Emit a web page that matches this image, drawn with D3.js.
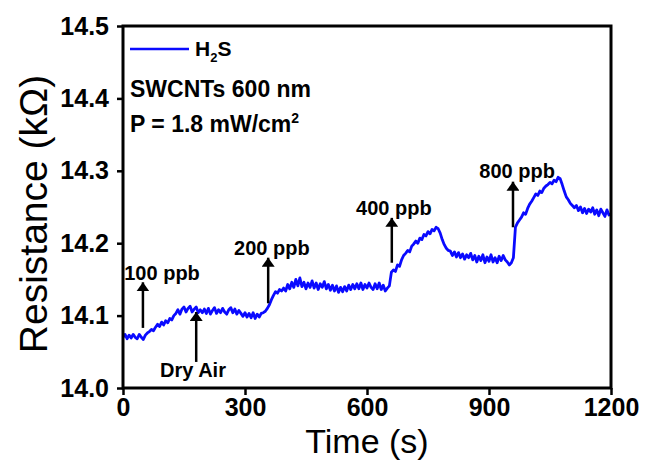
<!DOCTYPE html>
<html>
<head>
<meta charset="utf-8">
<script src="https://cdn.jsdelivr.net/npm/d3@7"></script>
<style>
  body { margin: 0; background: #fff; }
  text { font-family: "Liberation Sans", Arial, sans-serif; }
</style>
</head>
<body>
<svg id="chart" width="645" height="461"></svg>
<script>
'use strict';

// sampling step of the trace (s)
const step = 5;

// resistance (kOhm), one value every 5 s from 0 to 1200 s
const resistance = [
  // 0 - 55
  14.070, 14.074, 14.068, 14.073, 14.069, 14.074, 14.070, 14.068, 14.074, 14.070, 14.067, 14.073,
  // 60 - 125
  14.076, 14.078, 14.081, 14.079, 14.084, 14.088, 14.085, 14.091, 14.087, 14.093, 14.090, 14.096, 14.094, 14.100,
  // 130 - 190
  14.103, 14.108, 14.102, 14.109, 14.112, 14.105, 14.110, 14.113, 14.105, 14.109, 14.112, 14.104, 14.108,
  // 195 - 345
  14.104, 14.109, 14.103, 14.110, 14.102, 14.107, 14.111, 14.103, 14.108, 14.104,
  14.110, 14.105, 14.102, 14.108, 14.111, 14.104, 14.109, 14.102, 14.107, 14.103,
  14.099, 14.104, 14.098, 14.103, 14.097, 14.104, 14.096, 14.102, 14.098, 14.103, 14.104,
  // 350 - 390
  14.106, 14.110, 14.115, 14.122, 14.128, 14.133, 14.131, 14.136, 14.134,
  // 395 - 645
  14.138, 14.134, 14.143, 14.137, 14.146, 14.139, 14.150, 14.141, 14.152, 14.140,
  14.146, 14.137, 14.145, 14.139, 14.148, 14.138, 14.145, 14.136, 14.144, 14.139,
  14.147, 14.137, 14.143, 14.135, 14.142, 14.134, 14.141, 14.132, 14.139, 14.133,
  14.140, 14.134, 14.142, 14.136, 14.143, 14.137, 14.144, 14.137, 14.145, 14.136,
  14.143, 14.138, 14.145, 14.139, 14.136, 14.144, 14.137, 14.145, 14.136, 14.142, 14.134,
  // 650 - 775
  14.138, 14.141, 14.160, 14.163, 14.161, 14.170, 14.168, 14.177, 14.183, 14.186,
  14.190, 14.188, 14.196, 14.199, 14.203, 14.200, 14.207, 14.205, 14.212, 14.210,
  14.216, 14.213, 14.219, 14.217, 14.222, 14.220,
  // 780 - 800
  14.214, 14.205, 14.198, 14.193, 14.190,
  // 805 - 955
  14.189, 14.183, 14.188, 14.181, 14.187, 14.180, 14.185, 14.178, 14.184, 14.180,
  14.186, 14.177, 14.183, 14.174, 14.182, 14.176, 14.184, 14.173, 14.181, 14.175,
  14.184, 14.174, 14.180, 14.173, 14.182, 14.176, 14.183, 14.177, 14.174, 14.170, 14.173,
  // 960 - 1075
  14.180, 14.222, 14.228, 14.232, 14.236, 14.242, 14.240, 14.248, 14.254, 14.258,
  14.263, 14.268, 14.266, 14.272, 14.270, 14.276, 14.279, 14.281, 14.284, 14.282,
  14.287, 14.285, 14.291, 14.289,
  // 1080 - 1200
  14.281, 14.272, 14.264, 14.260, 14.255, 14.252, 14.249, 14.252, 14.245, 14.250,
  14.242, 14.248, 14.241, 14.247, 14.243, 14.249, 14.240, 14.246, 14.238, 14.247,
  14.242, 14.237, 14.246, 14.239, 14.240
];

// annotation arrows: label, time of arrow, arrow start / tip, label position
const notes      = ['100 ppb', 'Dry Air', '200 ppb', '400 ppb', '800 ppb'];
const noteTime   = [49, 180, 357, 661, 959];
const noteFrom   = [14.083, 14.036, 14.117, 14.173, 14.222];
const noteTip    = [14.146, 14.105, 14.180, 14.235, 14.285];
const noteLabelT = [96, 172, 366, 666, 969];
const noteLabelV = [14.149, 14.015, 14.184, 14.239, 14.290];

// ticks
const xTicks = [0, 300, 600, 900, 1200];
const yTicks = [14.0, 14.1, 14.2, 14.3, 14.4, 14.5];

const margin = { top: 26, right: 34, bottom: 73, left: 123 };
const width  = 645 - margin.left - margin.right,
      height = 461 - margin.top - margin.bottom;

const data = resistance.map( (v, i) => ({ t: i * step, v: v }) );

// scales
const x = d3.scaleLinear().domain([0, 1200]).range([0, width]);
const y = d3.scaleLinear().domain([14.0, 14.5]).range([height, 0]);

const svg = d3.select('#chart')
  .append('g')
    .attr('transform', `translate(${margin.left},${margin.top})`);

// arrow head
svg.append('defs')
  .append('marker')
    .attr('id', 'head')
    .attr('viewBox', '0 0 10 10')
    .attr('refX', 10)
    .attr('refY', 5)
    .attr('markerUnits', 'userSpaceOnUse')
    .attr('markerWidth', 9)
    .attr('markerHeight', 13)
    .attr('orient', 'auto')
    .attr('preserveAspectRatio', 'none')
  .append('path')
    .attr('d', 'M0,0 L10,5 L0,10 Z')
    .attr('fill', '#000');

// the trace
const line = d3.line()
  .x( (d) => x(d.t) )
  .y( (d) => y(d.v) );

svg.append('path')
  .datum(data)
  .attr('d', line)
  .attr('fill', 'none')
  .attr('stroke', '#0a0aff')
  .attr('stroke-width', 2.8)
  .attr('stroke-linejoin', 'round');

// axes
const xAxis = d3.axisBottom(x).tickValues(xTicks).tickSize(7).tickPadding(3).tickFormat(d3.format('d'));
const yAxis = d3.axisLeft(y).tickValues(yTicks).tickSize(6).tickPadding(8).tickFormat(d3.format('.1f'));

const gx = svg.append('g')
  .attr('transform', `translate(0,${height})`)
  .call(xAxis);

const gy = svg.append('g')
  .call(yAxis);

[gx, gy].forEach( (g) => {
  g.select('.domain').remove();
  g.selectAll('line').attr('stroke', '#000').attr('stroke-width', 2.5);
  g.selectAll('text')
    .attr('fill', '#000')
    .style('font-size', '25px')
    .style('font-weight', 'bold');
});

// frame
svg.append('rect')
  .attr('width', width)
  .attr('height', height)
  .attr('fill', 'none')
  .attr('stroke', '#000')
  .attr('stroke-width', 3);

// arrows + labels
notes.forEach( (n, i) => {
  svg.append('line')
    .attr('x1', x(noteTime[i]))
    .attr('x2', x(noteTime[i]))
    .attr('y1', y(noteFrom[i]))
    .attr('y2', y(noteTip[i]))
    .attr('stroke', '#000')
    .attr('stroke-width', 2.5)
    .attr('marker-end', 'url(#head)');

  svg.append('text')
    .attr('x', x(noteLabelT[i]))
    .attr('y', y(noteLabelV[i]))
    .attr('text-anchor', 'middle')
    .style('font-size', '20px')
    .style('font-weight', 'bold')
    .text(n);
});

// legend
svg.append('line')
  .attr('x1', 7).attr('x2', 66)
  .attr('y1', 23).attr('y2', 23)
  .attr('stroke', '#0a0aff')
  .attr('stroke-width', 2.6);

const leg = svg.append('text')
  .attr('x', 72)
  .attr('y', 30)
  .style('font-size', '21px')
  .style('font-weight', 'bold');
leg.append('tspan').text('H');
leg.append('tspan').attr('dy', 6).style('font-size', '13px').text('2');
leg.append('tspan').attr('dy', -6).text('S');

svg.append('text')
  .attr('x', 7)
  .attr('y', 71)
  .style('font-size', '23px')
  .style('font-weight', 'bold')
  .text('SWCNTs 600 nm');

const pw = svg.append('text')
  .attr('x', 7)
  .attr('y', 106)
  .style('font-size', '23px')
  .style('font-weight', 'bold');
pw.append('tspan').text('P = 1.8 mW/cm');
pw.append('tspan').attr('dy', -9).style('font-size', '14px').text('2');

// axis titles
svg.append('text')
  .attr('x', width / 2)
  .attr('y', height + 65)
  .attr('text-anchor', 'middle')
  .style('font-size', '34px')
  .text('Time (s)');

svg.append('text')
  .attr('transform', `translate(${-76},${height / 2 + 7}) rotate(-90)`)
  .attr('text-anchor', 'middle')
  .style('font-size', '39px')
  .text('Resistance (kΩ)');
</script>
</body>
</html>
